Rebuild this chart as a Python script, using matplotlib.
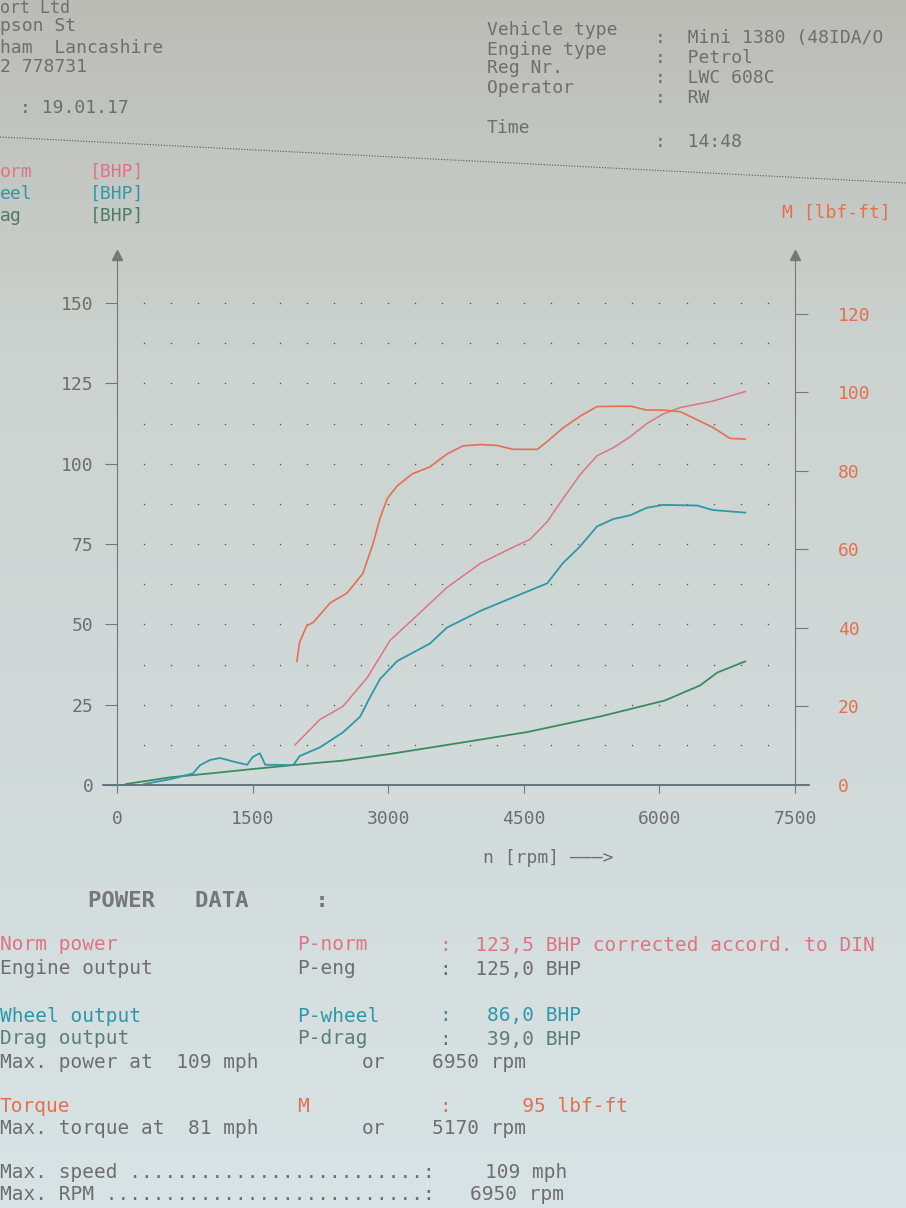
import numpy as np
import matplotlib.pyplot as plt

# dyno run, Mini 1380
rpm_norm = [1970, 2245, 2500, 2770, 3020, 3270, 3650, 4020, 4380, 4570, 4760,
            4930, 5120, 5310, 5490, 5680, 5860, 6040, 6230, 6590, 6950]
p_norm = [12.5, 20.4, 24.5, 33.5, 45, 51.5, 61.5, 69, 74, 76.5, 82,
          89, 96.5, 102.5, 105, 108.5, 112.5, 115.5, 117.5, 119.5, 122.5]

rpm_wheel = [300, 590, 840, 920, 1030, 1140, 1330, 1440, 1500, 1580, 1640, 1950,
             2020, 2250, 2500, 2690, 2800, 2910, 3100, 3460, 3650, 4020, 4380,
             4570, 4760, 4930, 5120, 5310, 5490, 5680, 5860, 6040, 6420, 6590, 6950]
p_wheel = [0.3, 1.8, 3.6, 6.2, 7.8, 8.4, 7.0, 6.3, 8.7, 9.9, 6.3, 6.2,
           9.0, 11.8, 16.4, 21.3, 27.4, 33, 38.6, 44, 49, 54.2, 58.4,
           60.6, 62.8, 69, 74.2, 80.5, 82.8, 84, 86.3, 87.2, 87, 85.6, 84.8]

rpm_drag = [100, 590, 1030, 1440, 1950, 2500, 3050, 3790, 4540, 5340, 6060, 6450, 6640, 6950]
p_drag = [0.3, 2.4, 3.6, 4.8, 6.2, 7.6, 9.8, 13.1, 16.5, 21.3, 26.3, 31, 35, 38.5]

rpm_torque = [1990, 2020, 2100, 2170, 2360, 2545, 2720, 2830, 2910, 2990, 3100,
              3270, 3460, 3650, 3830, 4020, 4200, 4380, 4650, 4760, 4930, 5120,
              5310, 5680, 5860, 6040, 6230, 6420, 6590, 6780, 6950]
torque = [31.5, 36.4, 40.6, 41.4, 46.4, 48.9, 53.9, 61.3, 68, 73, 76.2,
          79.3, 81, 84.3, 86.4, 86.7, 86.5, 85.5, 85.5, 87.5, 90.9, 93.9,
          96.4, 96.5, 95.5, 95.5, 95.1, 93, 91.1, 88.3, 88.1]

x_ticks = [0, 1500, 3000, 4500, 6000, 7500]
bhp_ticks = [0, 25, 50, 75, 100, 125, 150]
tq_ticks = [0, 20, 40, 60, 80, 100, 120]

W, H = 906, 1208
MONO = 'DejaVu Sans Mono'
GREY = '#6e6e6e'
C_NORM = '#de7486'
C_TQ = '#e4704f'
C_WHEEL = '#2f98a8'
C_DRAG = '#3d8a5e'

fig = plt.figure(figsize=(W / 100, H / 100), dpi=100)
fig.patch.set_facecolor('#cdd3d1')

# paper background, darker at the top
bg = fig.add_axes([0, 0, 1, 1], zorder=-5)
t = np.linspace(0, 1, 200)[:, None]
top = np.array([188, 188, 182]) / 255
mid = np.array([204, 211, 208]) / 255
bot = np.array([216, 227, 229]) / 255
grad = np.where(t < 0.3, top + (mid - top) * (t / 0.3), mid + (bot - mid) * ((t - 0.3) / 0.7))
grad = np.repeat(grad[:, None, :], 2, axis=1)
bg.imshow(grad, aspect='auto', extent=[0, 1, 0, 1])
bg.axis('off')


def put(x, y, s, color=GREY, size=13, **kw):
    fig.text(x / W, 1 - y / H, s, color=color, fontsize=size, family=MONO,
             va='center', ha='left', **kw)


# header
put(0, 8, 'ort Ltd', size=12)
put(0, 26, 'pson St')
put(0, 48, 'ham  Lancashire')
put(0, 67, '2 778731')
put(20, 108, ': 19.01.17')

put(487, 30, 'Vehicle type')
put(487, 50, 'Engine type')
put(487, 68, 'Reg Nr.')
put(487, 88, 'Operator')
put(487, 128, 'Time')
put(655, 38, ':  Mini 1380 (48IDA/O')
put(655, 58, ':  Petrol')
put(655, 78, ':  LWC 608C')
put(655, 98, ':  RW')
put(655, 142, ':  14:48')

fig.add_artist(plt.Line2D([0, 1], [1 - 137 / H, 1 - 183 / H], color='#555555',
                          lw=0.8, ls=(0, (1, 1.5))))

# legend block
put(0, 172, 'orm', C_NORM)
put(90, 172, '[BHP]', C_NORM)
put(0, 194, 'eel', C_WHEEL)
put(90, 194, '[BHP]', C_WHEEL)
put(0, 216, 'ag', '#4f7a66')
put(90, 216, '[BHP]', '#4f7a66')
put(782, 213, 'M [lbf-ft]', C_TQ)

# plot area
ax = fig.add_axes([117 / W, 1 - 785 / H, (795 - 117) / W, 530 / H])
ax.patch.set_alpha(0)
ax2 = ax.twinx()

ax.set_xlim(0, 7500)
ax.set_ylim(0, 165)
ax2.set_ylim(0, 135)

gx, gy = np.meshgrid(np.arange(300, 7400, 300), np.arange(12.5, 151, 12.5))
ax.scatter(gx.ravel(), gy.ravel(), s=1.2, color='#555555', lw=0)

ax.plot(rpm_drag, p_drag, color=C_DRAG, lw=1.3)
ax.plot(rpm_wheel, p_wheel, color=C_WHEEL, lw=1.3)
ax.plot(rpm_norm, p_norm, color=C_NORM, lw=1.1)
ax2.plot(rpm_torque, torque, color=C_TQ, lw=1.2)

for a in (ax, ax2):
    for s in ('top', 'bottom'):
        a.spines[s].set_visible(False)
    a.spines['left'].set_color('#777777')
    a.spines['right'].set_color('#777777')
ax.spines['right'].set_visible(False)
ax2.spines['left'].set_visible(False)

ax.plot([-150, 7650], [0, 0], color='#5a6f78', lw=1.3, clip_on=False)
ax.plot(0, 1, marker='^', ms=7, color='#777777', transform=ax.transAxes, clip_on=False)
ax2.plot(1, 1, marker='^', ms=7, color='#777777', transform=ax2.transAxes, clip_on=False)

ax.set_xticks(x_ticks)
ax.set_xticklabels([str(v) for v in x_ticks], family=MONO, fontsize=13, color=GREY)
ax.set_yticks(bhp_ticks)
ax.set_yticklabels([str(v) for v in bhp_ticks], family=MONO, fontsize=13, color=GREY)
ax2.set_yticks(tq_ticks)
ax2.set_yticklabels([str(v) for v in tq_ticks], family=MONO, fontsize=13, color=C_TQ)
ax.tick_params(axis='x', direction='out', length=6, color='#777777', pad=12)
ax.tick_params(axis='y', direction='out', length=9, color='#777777', pad=8)
ax2.tick_params(axis='y', direction='out', length=9, color='#777777', pad=22)

put(483, 858, 'n [rpm] \u2014\u2014\u2014>', GREY, 13)

# power data block
put(88, 901, 'POWER   DATA     :', '#777777', 16, fontweight='bold')

rows = [
    (945, 'Norm power', 'P-norm', ':  123,5 BHP corrected accord. to DIN', C_NORM),
    (969, 'Engine output', 'P-eng', ':  125,0 BHP', GREY),
    (1016, 'Wheel output', 'P-wheel', ':   86,0 BHP', C_WHEEL),
    (1039, 'Drag output', 'P-drag', ':   39,0 BHP', '#5b7f78'),
    (1106, 'Torque', 'M', ':      95 lbf-ft', C_TQ),
]
for y, lab, sym, val, col in rows:
    put(0, y, lab, col, 14)
    put(297, y, sym, col, 14)
    put(440, y, val, col, 14)

put(0, 1062, 'Max. power at  109 mph', GREY, 14)
put(362, 1062, 'or', GREY, 14)
put(432, 1062, '6950 rpm', GREY, 14)
put(0, 1129, 'Max. torque at  81 mph', GREY, 14)
put(362, 1129, 'or', GREY, 14)
put(432, 1129, '5170 rpm', GREY, 14)
put(0, 1173, 'Max. speed ' + '.' * 25 + ':', GREY, 14)
put(485, 1173, '109 mph', GREY, 14)
put(0, 1195, 'Max. RPM ' + '.' * 27 + ':', GREY, 14)
put(470, 1195, '6950 rpm', GREY, 14)

fig.savefig('out.png', dpi=100, facecolor=fig.get_facecolor())
